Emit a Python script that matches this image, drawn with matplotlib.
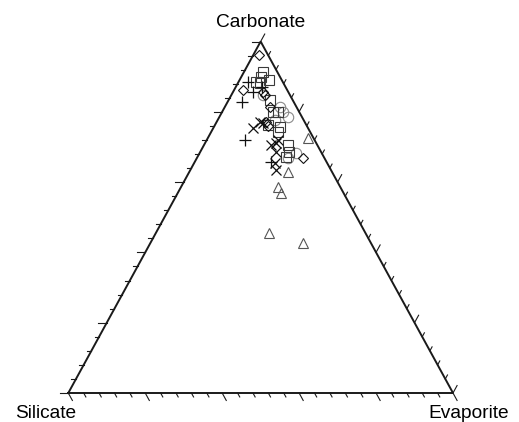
import numpy as np
import matplotlib
matplotlib.use("Agg")
import matplotlib.pyplot as plt

plt.rcParams['font.family'] = ['Liberation Sans', 'DejaVu Sans']

# compositions in percent: carbonate, evaporite (silicate is the remainder)
sq_carb = [91.4, 90.0, 89.0, 88.6, 88.1, 83.4, 80.0, 80.0, 74.3, 75.8, 70.6, 67.2, 76.2, 68.6]
sq_evap = [4.9, 5.2, 7.8, 4.6, 5.7, 10.7, 14.5, 13.1, 17.3, 17.1, 21.8, 23.1, 13.7, 23.0]

ci_carb = [81.5, 78.4, 68.2, 66.8, 84.8, 79.9, 77.7]
ci_evap = [14.2, 17.9, 25.2, 23.7, 8.1, 15.8, 14.8]

di_carb = [96.2, 86.2, 85.7, 84.8, 81.5, 77.2, 66.8, 76.0]
di_evap = [1.5, 2.3, 7.7, 8.7, 11.6, 12.9, 27.6, 13.9]

tr_carb = [72.5, 63.0, 58.7, 56.8, 45.4, 42.6]
tr_evap = [26.1, 25.6, 25.2, 27.0, 29.5, 39.7]

pl_carb = [88.6, 85.7, 82.9, 72.0, 65.8, 87.1]
pl_evap = [2.4, 5.1, 3.6, 9.9, 19.9, 6.7]

xx_carb = [77.2, 75.3, 76.8, 71.0, 70.6, 63.4, 65.4, 72.0, 68.6]
xx_evap = [11.2, 10.4, 12.1, 18.6, 17.5, 22.4, 21.0, 18.5, 19.6]

W, H = 519, 422
fig = plt.figure(figsize=(W / 100, H / 100), dpi=100)
# axes box spans the triangle: silicate bottom-left, evaporite bottom-right
ax = fig.add_axes([68.3 / W, 29 / H, 384.7 / W, 351.5 / H])
ax.set_xlim(0, 1)
ax.set_ylim(0, 1)
ax.axis('off')

px_w, px_h = 384.7, 351.5


def tern(carb, evap):
    c = np.asarray(carb) / 100.0
    e = np.asarray(evap) / 100.0
    return e + c / 2, c


# triangle outline
ax.plot([0, 1, 0.5, 0], [0, 0, 1, 0], color='#1a1a1a', lw=1.4,
        clip_on=False, solid_joinstyle='miter', zorder=3)

# ticks every 4 %, longer every 20 %
edge_len = np.hypot(0.5 * px_w, px_h)
for k in range(26):
    v = k * 0.04
    L = 8.5 if k % 5 == 0 else 4.5
    t = L / edge_len
    # bottom edge, ticks parallel to the right edge
    ax.plot([v, v + 0.5 * t], [0, -t], color='#1a1a1a', lw=0.8, clip_on=False)
    # left edge, horizontal ticks
    ax.plot([v / 2, v / 2 - L / px_w], [v, v], color='#1a1a1a', lw=0.8, clip_on=False)
    # right edge, ticks parallel to the left edge
    x0, y0 = 1 - v / 2, v
    ax.plot([x0, x0 + 0.5 * t], [y0, y0 + t], color='#1a1a1a', lw=0.8, clip_on=False)

kw = dict(linestyle='none', markerfacecolor='none', clip_on=False, zorder=4)
ax.plot(*tern(ci_carb, ci_evap), marker='o', ms=7.5, mec='#8a8a8a', mew=0.8, **kw)
ax.plot(*tern(tr_carb, tr_evap), marker='^', ms=7, mec='#555555', mew=0.8, **kw)
ax.plot(*tern(sq_carb, sq_evap), marker='s', ms=7, mec='#3a3a3a', mew=0.8, **kw)
ax.plot(*tern(di_carb, di_evap), marker='D', ms=5.5, mec='#111111', mew=0.8, **kw)
ax.plot(*tern(pl_carb, pl_evap), marker='+', ms=9, mec='#111111', mew=0.9, **kw)
ax.plot(*tern(xx_carb, xx_evap), marker='x', ms=7, mec='#111111', mew=0.9, **kw)

fs = 13.8
fig.text(261 / W, 1 - 26.7 / H, 'Carbonate', ha='center', va='baseline', fontsize=fs)
fig.text(46 / W, 1 - 418 / H, 'Silicate', ha='center', va='baseline', fontsize=fs)
fig.text(469 / W, 1 - 418 / H, 'Evaporite', ha='center', va='baseline', fontsize=fs)

fig.savefig('out.png', dpi=100)
